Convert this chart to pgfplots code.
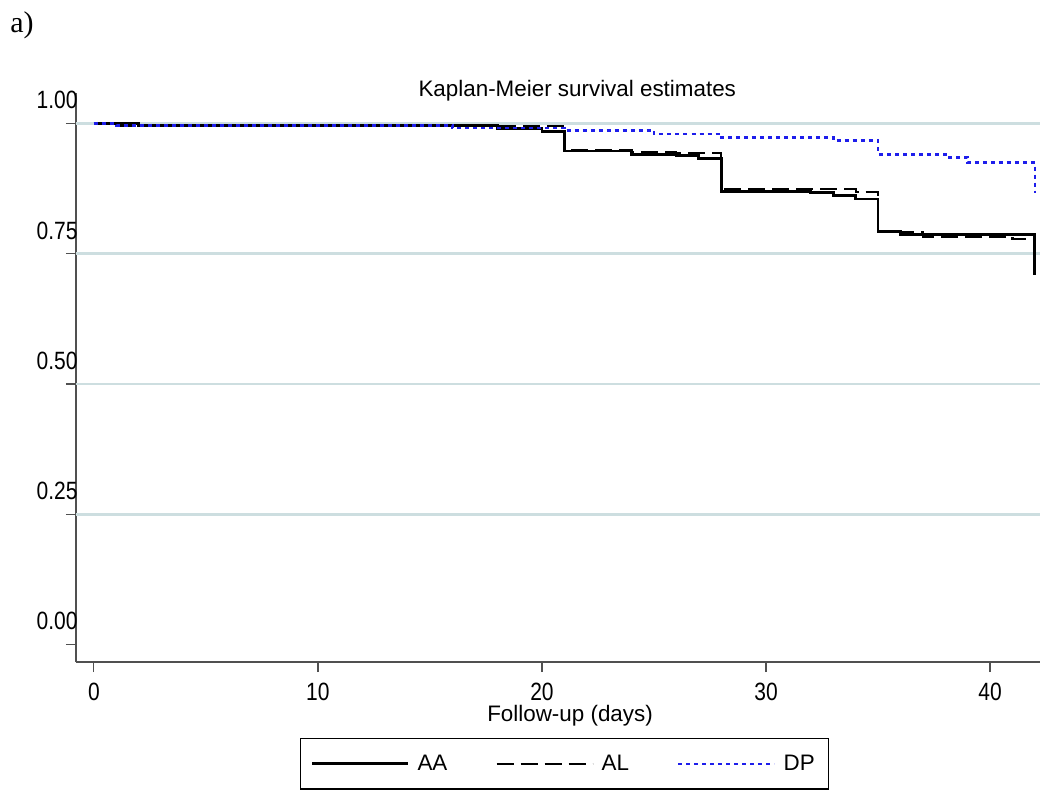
\documentclass[border=0pt]{standalone}
\usepackage{pgfplots}
\pgfplotsset{compat=1.18}
\usepackage{fontspec}
\setmainfont{Liberation Sans}
\newfontfamily\seriffont{Liberation Serif}
\newfontfamily\narrowfont{Liberation Sans}[FakeStretch=0.84]
\definecolor{gridc}{RGB}{205,222,224}
\definecolor{dpblue}{RGB}{30,30,235}
\definecolor{axc}{RGB}{80,80,80}
\begin{document}
\begin{tikzpicture}
\begin{axis}[
  scale only axis, width=482pt, height=284.5pt,
  xmin=-0.8, xmax=42.23, ymin=-0.0336, ymax=1.0585,
  axis x line*=bottom, axis y line*=left,
  axis line style={axc, line width=0.8pt, -},
  clip=false,
  xtick={0,10,20,30,40}, xticklabels={0,10,20,30,40},
  ytick={0,0.25,0.5,0.75,1}, yticklabels={0.00,0.25,0.50,0.75,1.00},
  tick align=outside, major tick length=5pt,
  tick style={axc, line width=0.6pt},
  extra y ticks={0.25,0.5,0.75,1},
  extra y tick labels={},
  extra y tick style={grid=major, major tick length=0pt, major grid style={gridc, line width=1.3pt}},
  every tick label/.append style={font=\narrowfont\fontsize{12.5}{14}\selectfont, black},
  yticklabel style={anchor=south east, inner sep=0pt, xshift=6pt, yshift=7pt},
  xticklabel style={anchor=north, inner sep=0pt, yshift=-5.5pt},
  xlabel={Follow-up (days)},
  xlabel style={at={(axis description cs:0.5125,-0.1054)}, anchor=base, font=\fontsize{11.2}{13}\selectfont, inner sep=0pt},
  legend style={at={(axis description cs:0.507,-0.179)}, anchor=center, draw=black, line width=0.6pt,
    font=\fontsize{11.2}{13}\selectfont, legend columns=3, inner xsep=5pt, inner ysep=6pt,
    /tikz/every odd column/.append style={column sep=2pt},
    /tikz/every even column/.append style={column sep=22pt}},
  legend cell align=left,
  legend image code/.code={\draw[#1] (0pt,0pt) -- (48pt,0pt);},
]
\addplot[const plot, black, line width=1.4pt] coordinates {
(0,1)(2,0.996)(18,0.991)(20,0.984)(21,0.947)(24,0.941)(26,0.938)(27,0.932)(28,0.870)(32,0.867)(33,0.861)(34,0.855)(35,0.792)(36,0.787)(42,0.787)(42,0.709)};
\addlegendentry{AA}
\addplot[const plot, black, line width=1.1pt, dash pattern=on 8.5pt off 3.5pt] coordinates {
(0,1)(1,0.995)(21,0.949)(24,0.945)(26,0.943)(28,0.874)(34,0.869)(35,0.791)(37,0.783)(41,0.778)(41.6,0.778)};
\addlegendentry{AL}
\addplot[const plot, dpblue, line width=1.3pt, dash pattern=on 2pt off 2pt] coordinates {
(0,1)(1,0.996)(16,0.991)(21,0.986)(25,0.980)(28,0.973)(33,0.967)(35,0.941)(38,0.935)(39,0.925)(42,0.925)(42,0.866)};
\addlegendentry{DP\hspace{6pt}}
\node[anchor=base, font=\fontsize{11.2}{13}\selectfont, inner sep=0pt] at (rel axis cs:0.52,0.993) {Kaplan-Meier survival estimates};
\node[anchor=base west, font=\seriffont\fontsize{15}{17}\selectfont, inner sep=0pt] at (rel axis cs:-0.0685,1.107) {a)};
\coordinate (bbsw) at (rel axis cs:-0.0788,-0.2267);
\coordinate (bbne) at (rel axis cs:1.00207,1.1634);
\end{axis}
\pgfresetboundingbox
\useasboundingbox (bbsw) rectangle (bbne);
\end{tikzpicture}
\end{document}
